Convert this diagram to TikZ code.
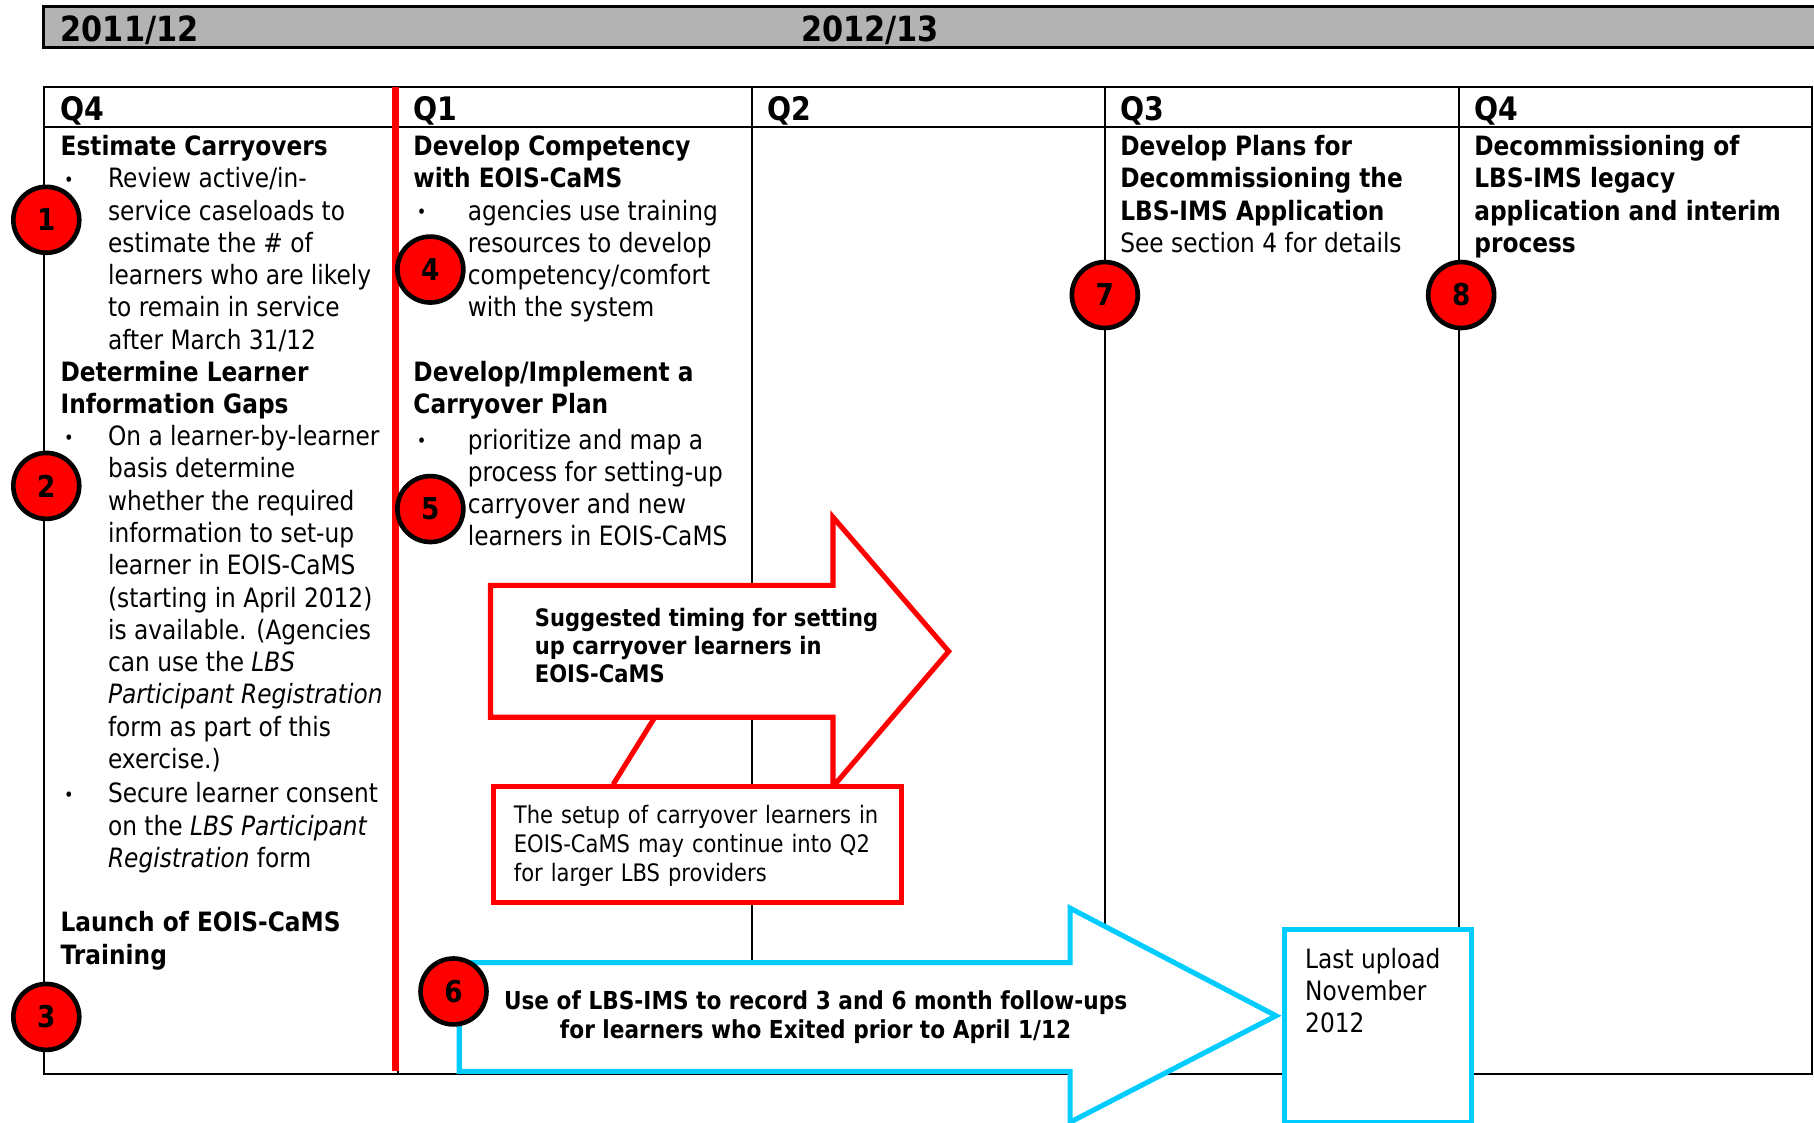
\documentclass[tikz,border=0pt]{standalone}
\usepackage{fontspec}
\setmainfont{DejaVu Sans}[FakeStretch=0.875]
\definecolor{barg}{RGB}{179,179,179}
\definecolor{skyb}{RGB}{0,204,255}
\newcommand{\itemb}[1][20.5pt]{\makebox[#1][l]{\hspace{1.5pt}\raisebox{.5pt}{\fontsize{8}{8}\selectfont\textbullet}}}
\newcommand{\itemc}[1][20.5pt]{\hspace*{#1}}

\begin{document}
\begin{tikzpicture}[x=0.5pt,y=-0.5pt,
    tabline/.style={line width=0.9pt},
    txt/.style={anchor=north west,inner sep=0pt,align=left,
      font=\fontsize{11.5}{13.95}\selectfont,execute at begin node=\strut},
    qlab/.style={anchor=base west,inner sep=0pt,font=\bfseries\fontsize{14}{14}\selectfont},
    badge/.style={circle,draw=black,line width=2pt,fill=red,minimum size=28.5pt,
      inner sep=0pt,font=\bfseries\fontsize{13}{13}\selectfont},
    redarr/.style={draw=red,line width=2.2pt,fill=white},
    bluearr/.style={draw=skyb,line width=2.2pt,fill=white}]
  \useasboundingbox (0,0) rectangle (1568,970);
  \draw[line width=1.3pt,fill=barg] (38,6) rectangle (1590,41);
  \node[qlab,font=\bfseries\fontsize{15}{15}\selectfont] (y11) at (52,36) {2011/12};
  \node[qlab,font=\bfseries\fontsize{15}{15}\selectfont] (y12) at (692,36) {2012/13};

  \draw[tabline] (38,75) rectangle (1566,928) (38,110) -- (1566,110);
  \foreach \x in {344,650,955,1261} \draw[tabline] (\x,75) -- (\x,928);
  \draw[red,line width=2.8pt] (342,75) -- (342,926);
  \foreach \x/\q [count=\i] in {52/Q4,357/Q1,663/Q2,968/Q3,1274/Q4}
    \node[qlab] (q\i) at (\x,104) {\q};

  \node[txt] (estim) at (52,116.5) {\textbf{Estimate Carryovers}\\
    \itemb Review active/in-\\
    \itemc service caseloads to\\
    \itemc estimate the \# of\\
    \itemc learners who are likely\\
    \itemc to remain in service\\
    \itemc after March 31/12};
  \node[txt] (gaps) at (52,311.5) {\textbf{Determine Learner}\\
    \textbf{Information Gaps}\\
    \itemb On a learner-by-learner\\
    \itemc basis determine\\
    \itemc whether the required\\
    \itemc information to set-up\\
    \itemc learner in EOIS-CaMS\\
    \itemc (starting in April 2012)\\
    \itemc is available. (Agencies\\
    \itemc can use the \textit{LBS}\\
    \itemc \textit{Participant Registration}\\
    \itemc form as part of this\\
    \itemc exercise.)\\[1pt]
    \itemb Secure learner consent\\
    \itemc on the \textit{LBS Participant}\\
    \itemc \textit{Registration} form};
  \node[txt] (launch) at (52,787.5) {\textbf{Launch of EOIS-CaMS}\\
    \textbf{Training}};

  \node[txt] (compet) at (357,116.5) {\textbf{Develop Competency}\\
    \textbf{with EOIS-CaMS}\\
    \itemb[23.5pt]agencies use training\\
    \itemc[23.5pt]resources to develop\\
    \itemc[23.5pt]competency/comfort\\
    \itemc[23.5pt]with the system};
  \node[txt] (plan) at (357,311.5) {\textbf{Develop/Implement a}\\
    \textbf{Carryover Plan}\\[1.5pt]
    \itemb[23.5pt]prioritize and map a\\
    \itemc[23.5pt]process for setting-up\\
    \itemc[23.5pt]carryover and new\\
    \itemc[23.5pt]learners in EOIS-CaMS};

  \node[txt] (decplan) at (968,116.5) {\textbf{Develop Plans for}\\
    \textbf{Decommissioning the}\\
    \textbf{LBS-IMS Application}\\
    See section 4 for details};
  \node[txt] (decom) at (1274,116.5) {\textbf{Decommissioning of}\\
    \textbf{LBS-IMS legacy}\\
    \textbf{application and interim}\\
    \textbf{process}};

  \draw[redarr] (424,506) -- (720,506) -- (720,447) -- (820,563) -- (720,680)
    -- (720,620) -- (424,620) -- cycle;
  \node[txt,font=\bfseries\fontsize{10.4}{12.25}\selectfont] (timing) at (462,525)
    {Suggested timing for setting\\ up carryover learners in\\ EOIS-CaMS};
  \node[draw=red,line width=2.2pt,fill=white,anchor=north west,text width=158.5pt,
    inner xsep=9pt,minimum height=50pt,align=left,
    font=\fontsize{10.4}{12.5}\selectfont] (note) at (424,678)
    {\strut The setup of carryover learners in\\ EOIS-CaMS may continue into Q2\\
     for larger LBS providers};
  \coordinate (ptr) at (566,620);
  \draw[red,line width=2.2pt] (note.north west) ++(106,0) -- (ptr);

  \draw[bluearr] (397,832) -- (925,832) -- (925,785) -- (1103,878) -- (925,970)
    -- (925,926) -- (397,926) -- cycle;
  \node[txt,anchor=north,align=center,font=\bfseries\fontsize{10.7}{12.5}\selectfont]
    (followup) at (705,856) {Use of LBS-IMS to record 3 and 6 month follow-ups\\
    for learners who Exited prior to April 1/12};
  \node[draw=skyb,line width=2.2pt,fill=white,anchor=north west,inner xsep=9pt,
    inner ysep=7pt,font=\fontsize{11.5}{14}\selectfont] (upload) at (1108,801)
    {\parbox[t][69.5pt][t]{63pt}{\raggedright\strut Last upload\\ November\\ 2012}};

  \foreach \n/\x/\y in {1/40/190,2/40/420,3/40/879,4/372/233,5/372/440,6/392/857,7/955/255,8/1263/255}
    \node[badge] (c\n) at (\x,\y) {\n};
\end{tikzpicture}
\end{document}
